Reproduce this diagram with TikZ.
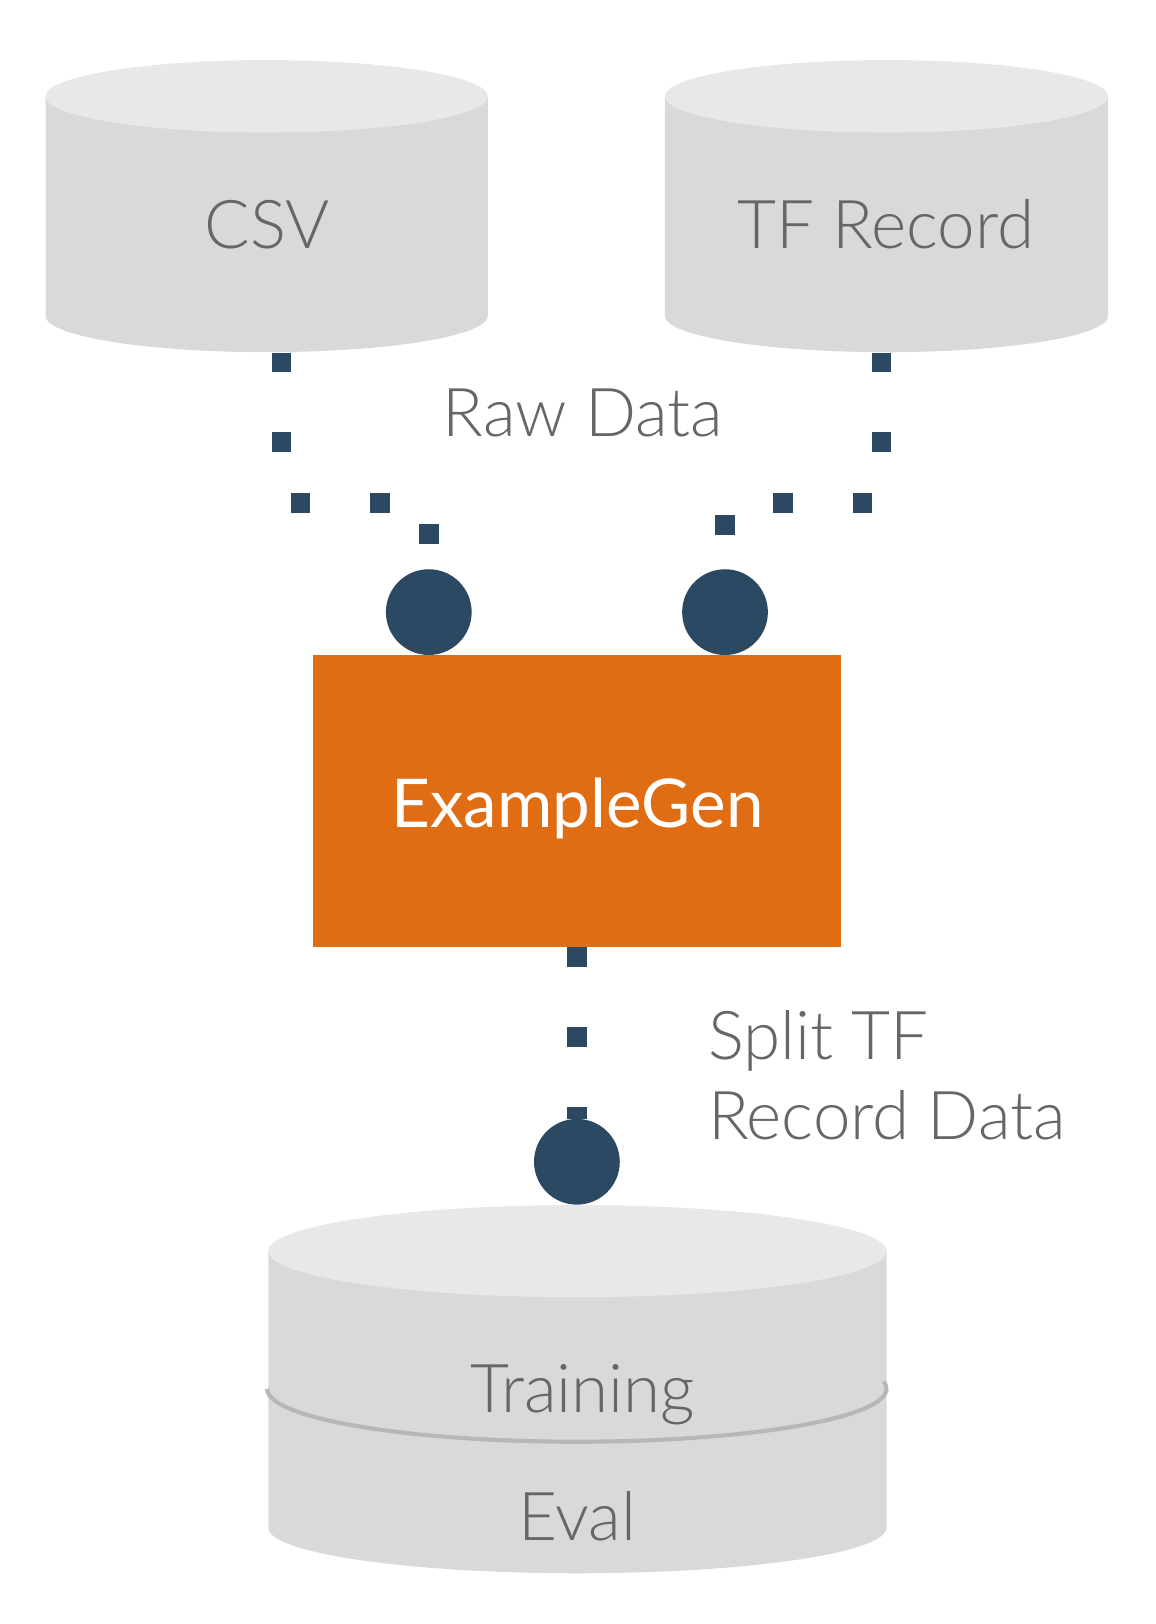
\documentclass[tikz,border=0pt]{standalone}
\usepackage{fontspec}
\setmainfont{Lato}[UprightFont=* Light]
\newfontfamily\genfont{Lato}
\usetikzlibrary{backgrounds}
\definecolor{navy}{HTML}{2C4963}
\definecolor{gen}{HTML}{E06C13}
\definecolor{cylbody}{HTML}{D9D9D9}
\definecolor{cyltop}{HTML}{E8E8E8}
\definecolor{txt}{HTML}{666666}
\definecolor{divline}{HTML}{B7B7B7}
\begin{document}
\begin{tikzpicture}[x=1pt,y=-1pt,
  lbl/.style={font=\fontsize{65}{77}\selectfont, text=txt, inner sep=0pt, anchor=base},
  port/.style={circle, fill=navy, minimum size=82.8pt, inner sep=0pt},
  conn/.style={draw=navy, line width=19pt, line cap=butt, dash pattern=on 19pt off 58pt},
  genbox/.style={rectangle, fill=gen, minimum width=510pt, minimum height=282pt, inner sep=0pt}]
\useasboundingbox (0,0) rectangle (1116,1568);
% CSV cylinder
\fill[cylbody] (44,93) -- (44,305) arc[start angle=180,end angle=0,x radius=213.5,y radius=35] -- (471,93) -- cycle;
\fill[cyltop] (257.5,93) ellipse[x radius=213.5,y radius=35];
\node[lbl] (csv) at (258,239.7) {CSV};
\coordinate (csvbot) at (271.8,340.5);
% TF Record cylinder
\fill[cylbody] (642,93) -- (642,305) arc[start angle=180,end angle=0,x radius=214,y radius=35] -- (1070,93) -- cycle;
\fill[cyltop] (856,93) ellipse[x radius=214,y radius=35];
\node[lbl] (tfr) at (855.5,239.7) {TF Record};
\coordinate (tfbot) at (851,340.5);
% Output cylinder
\fill[cylbody] (259,1208) -- (259,1475) arc[start angle=180,end angle=0,x radius=298.5,y radius=44] -- (856,1208) -- cycle;
\fill[cyltop] (557.5,1208) ellipse[x radius=298.5,y radius=44.5];
\draw[divline, line width=4pt] (258,1341) arc[start angle=180,end angle=-8,x radius=299,y radius=51];
\node[lbl] (train) at (562.6,1364) {Training};
\node[lbl] (eval) at (557.5,1487) {Eval};
% ExampleGen
\node[genbox] (gen) at (557,773.4) {};
\node[lbl, text=white, font=\genfont\fontsize{65}{77}\selectfont] (gentext) at (557.5,799) {ExampleGen};
% ports
\node[port] (portL) at (414,591) {};
\node[port] (portR) at (700,591) {};
\node[port] (portB) at (557,1121.7) {};
% connectors (behind the ports)
\begin{scope}[on background layer]
\draw[conn] (csvbot) -- ++(0,145.2) -| (portL.north);
\draw[conn] (tfbot) -- ++(0,145.2) -| (portR.north);
\draw[conn] (gen.south) -- (portB.north);
\end{scope}
% labels
\node[lbl] (raw) at (563,421.6) {Raw Data};
\node[lbl, anchor=base west] (split1) at (683.4,1023.4) {Split TF};
\node[lbl, anchor=base west] (split2) at (683.4,1100.6) {Record Data};
\end{tikzpicture}
\end{document}
